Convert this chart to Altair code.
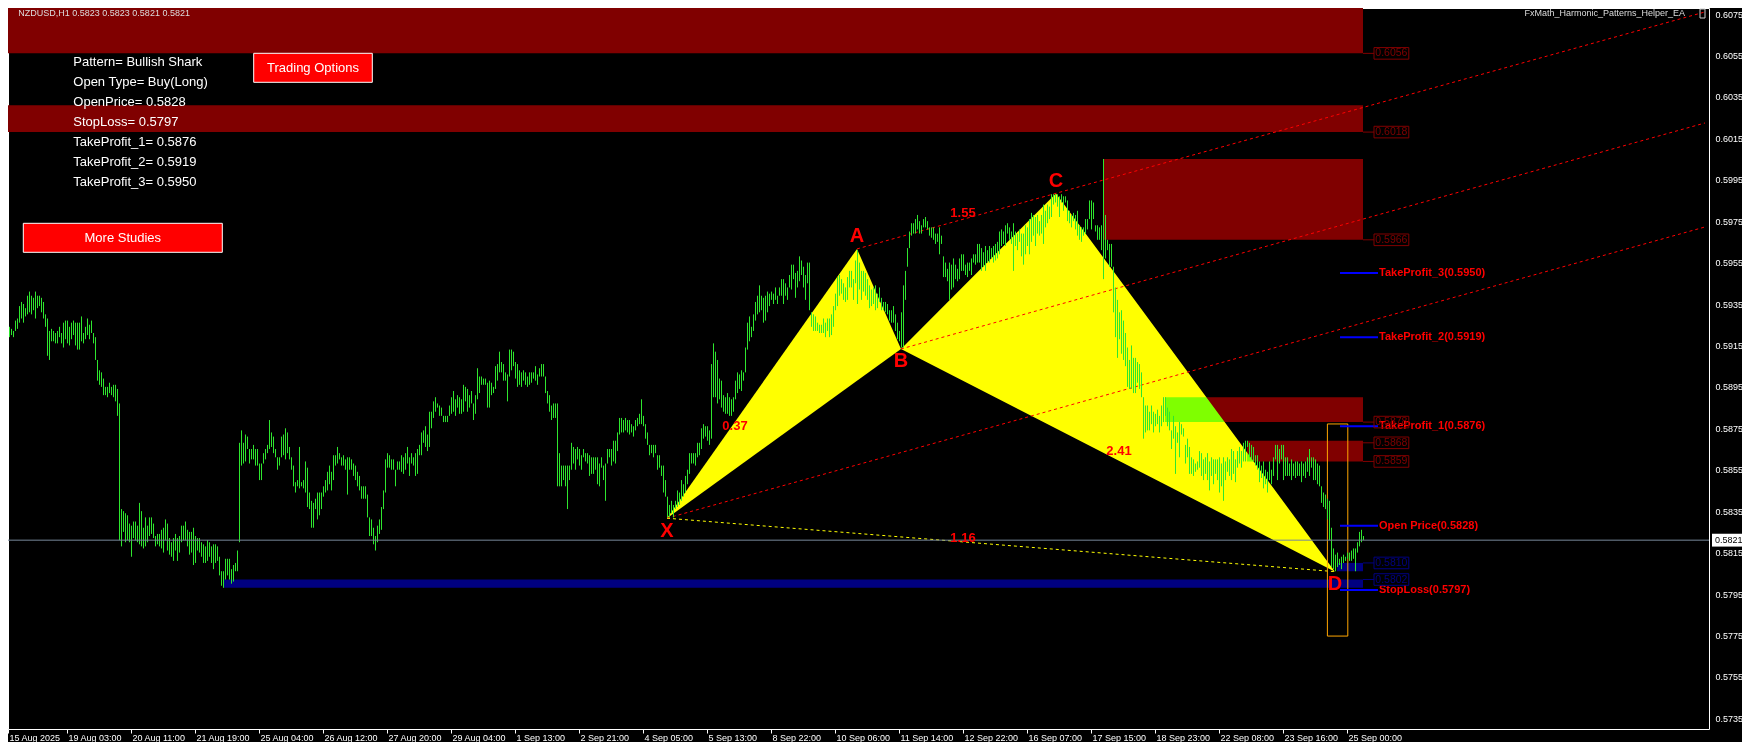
import altair as alt
import pandas as pd

# ---------------- price bars (H1, NZDUSD) ----------------
HIGH = [
0.5935,0.5928,0.5925,0.5924,0.5923,0.5922,0.5927,0.5928,0.5934,0.5936,
0.5935,0.5933,0.5939,0.5941,0.5939,0.5938,0.5941,0.5939,0.5939,0.5938,
0.5936,0.5930,0.5928,0.5922,0.5923,0.5922,0.5921,0.5922,0.5924,0.5921,
0.5926,0.5927,0.5927,0.5924,0.5926,0.5927,0.5926,0.5926,0.5926,0.5929,
0.5921,0.5924,0.5928,0.5925,0.5927,0.5921,0.5919,0.5908,0.5903,0.5902,
0.5899,0.5895,0.5895,0.5897,0.5895,0.5896,0.5896,0.5894,0.5887,0.5836,
0.5835,0.5834,0.5833,0.5829,0.5828,0.5830,0.5830,0.5828,0.5839,0.5835,
0.5827,0.5832,0.5828,0.5832,0.5832,0.5829,0.5823,0.5824,0.5824,0.5826,
0.5827,0.5831,0.5829,0.5822,0.5820,0.5822,0.5824,0.5822,0.5823,0.5828,
0.5828,0.5830,0.5826,0.5825,0.5825,0.5827,0.5823,0.5822,0.5822,0.5820,
0.5819,0.5818,0.5821,0.5820,0.5818,0.5819,0.5819,0.5818,0.5813,0.5806,
0.5806,0.5812,0.5812,0.5812,0.5807,0.5809,0.5810,0.5816,0.5868,0.5874,
0.5868,0.5872,0.5871,0.5865,0.5865,0.5867,0.5865,0.5865,0.5858,0.5858,
0.5863,0.5865,0.5867,0.5879,0.5873,0.5871,0.5865,0.5861,0.5861,0.5871,
0.5872,0.5875,0.5873,0.5866,0.5861,0.5857,0.5849,0.5850,0.5866,0.5849,
0.5850,0.5859,0.5856,0.5844,0.5840,0.5839,0.5841,0.5844,0.5844,0.5844,
0.5847,0.5850,0.5854,0.5857,0.5854,0.5862,0.5862,0.5866,0.5863,0.5861,
0.5862,0.5860,0.5861,0.5861,0.5860,0.5858,0.5857,0.5854,0.5852,0.5847,
0.5847,0.5847,0.5843,0.5832,0.5831,0.5827,0.5823,0.5828,0.5831,0.5837,
0.5845,0.5860,0.5863,0.5862,0.5860,0.5860,0.5855,0.5859,0.5859,0.5862,
0.5861,0.5863,0.5866,0.5861,0.5863,0.5861,0.5863,0.5865,0.5867,0.5873,
0.5874,0.5876,0.5872,0.5883,0.5883,0.5888,0.5890,0.5887,0.5886,0.5885,
0.5881,0.5881,0.5881,0.5886,
0.5890,0.5893,0.5889,0.5891,0.5890,0.5889,0.5896,0.5895,0.5894,0.5891,
0.5893,0.5887,0.5891,0.5904,0.5900,0.5900,0.5899,0.5899,0.5897,0.5898,
0.5897,0.5895,0.5905,0.5906,0.5912,0.5907,0.5906,0.5902,0.5901,0.5913,
0.5913,0.5912,0.5907,0.5906,0.5903,0.5902,0.5903,0.5902,0.5900,0.5902,
0.5902,0.5902,0.5905,0.5901,0.5904,0.5906,0.5906,0.5900,0.5893,0.5891,
0.5886,0.5887,0.5887,0.5887,0.5863,0.5857,0.5857,0.5857,0.5857,0.5857,
0.5868,0.5866,0.5865,0.5866,0.5865,0.5862,0.5865,0.5863,0.5863,0.5862,
0.5861,0.5861,0.5861,0.5861,0.5858,0.5861,0.5857,0.5858,0.5865,0.5865,
0.5865,0.5869,0.5869,0.5873,0.5880,0.5880,0.5879,0.5880,0.5879,0.5879,
0.5877,0.5876,0.5879,0.5880,0.5882,0.5889,0.5881,0.5877,0.5873,0.5867,
0.5867,0.5867,0.5867,0.5862,0.5862,0.5857,0.5857,0.5850,0.5842,0.5838,
0.5840,0.5838,0.5840,0.5845,0.5844,0.5850,0.5848,0.5852,0.5855,0.5863,
0.5863,0.5863,0.5863,0.5868,0.5868,
0.5875,0.5877,0.5876,0.5876,0.5874,0.5906,0.5916,0.5912,0.5908,0.5899,
0.5898,0.5891,0.5890,0.5892,0.5890,0.5889,0.5890,0.5898,0.5902,0.5901,
0.5903,0.5902,0.5914,0.5926,0.5929,0.5924,0.5930,0.5936,0.5939,0.5944,
0.5939,0.5938,0.5939,0.5941,0.5940,0.5941,0.5940,0.5943,0.5939,0.5943,
0.5947,0.5947,0.5945,0.5943,0.5949,0.5954,0.5954,0.5950,0.5951,0.5958,
0.5956,0.5953,0.5949,0.5955,0.5955,0.5931,0.5930,0.5929,0.5926,0.5925,
0.5925,0.5928,0.5926,0.5928,0.5928,0.5930,0.5934,0.5940,0.5948,0.5949,
0.5947,0.5945,0.5943,0.5948,0.5951,0.5951,0.5947,0.5956,0.5961,0.5955,
0.5951,0.5951,0.5950,0.5947,0.5944,0.5942,0.5943,0.5944,0.5940,0.5943,
0.5938,0.5936,0.5936,0.5935,0.5932,0.5932,0.5934,0.5930,0.5926,0.5922,
0.5931,0.5944,0.5951,0.5962,0.5970,0.5974,0.5974,0.5976,0.5978,0.5975,
0.5973,0.5976,0.5977,0.5975,0.5972,0.5972,0.5972,0.5969,0.5969,0.5972,
0.5968,0.5958,0.5955,0.5952,0.5955,0.5954,0.5957,0.5954,0.5952,0.5957,
0.5959,0.5959,0.5954,0.5955,0.5955,0.5957,0.5959,0.5959,0.5964,0.5964,
0.5962,0.5960,0.5963,0.5961,0.5963,0.5962,0.5963,0.5964,0.5965,0.5970,
0.5971,0.5970,0.5973,0.5974,0.5972,0.5970,0.5974,0.5970,0.5969,0.5971,
0.5969,0.5969,0.5973,0.5972,0.5976,0.5979,0.5978,0.5977,0.5978,0.5975,
0.5978,0.5983,0.5980,0.5983,0.5982,
0.5988,0.5988,0.5988,0.5988,0.5987,0.5988,0.5987,0.5987,0.5985,0.5980,
0.5978,0.5979,0.5978,0.5980,0.5973,0.5972,0.5972,0.5976,0.5976,0.5985,
0.5985,0.5984,0.5973,0.5973,0.5972,0.5973,0.6005,0.5978,0.5966,0.5964,
0.5964,0.5953,0.5943,0.5937,0.5931,0.5932,0.5927,0.5921,0.5914,0.5908,
0.5915,0.5909,0.5909,0.5907,0.5906,0.5902,0.5890,0.5886,0.5886,0.5883,
0.5886,0.5883,0.5882,0.5884,0.5881,0.5886,0.5890,0.5890,
0.5885,0.5883,0.5874,0.5881,0.5876,0.5873,0.5878,0.5877,0.5875,0.5867,
0.5870,0.5866,0.5861,0.5860,0.5858,0.5859,0.5864,0.5863,0.5860,0.5861,
0.5863,0.5859,0.5861,0.5860,0.5860,0.5860,0.5861,0.5858,0.5861,0.5859,
0.5861,0.5860,0.5865,0.5864,0.5860,0.5864,0.5866,0.5864,0.5868,0.5869,
0.5869,0.5868,0.5867,0.5866,0.5862,0.5862,0.5859,0.5857,0.5859,0.5855,
0.5854,0.5859,0.5855,0.5861,0.5867,0.5867,0.5865,0.5867,0.5867,0.5861,
0.5861,0.5858,0.5860,0.5858,0.5859,0.5859,0.5858,0.5859,0.5858,0.5859,
0.5861,0.5865,0.5861,0.5861,0.5860,0.5858,0.5857,0.5847,0.5844,0.5843,
0.5841,0.5840,0.5827,0.5817,0.5814,0.5815,0.5812,0.5813,0.5814,0.5813,
0.5815,0.5815,0.5816,0.5817,0.5817,0.5820,0.5825,0.5826,0.5823,
]

LOW = [
0.5926,0.5922,0.5921,0.5919,0.5920,0.5919,0.5922,0.5923,0.5926,0.5928,
0.5926,0.5929,0.5930,0.5931,0.5930,0.5932,0.5928,0.5933,0.5934,0.5931,
0.5928,0.5924,0.5910,0.5908,0.5917,0.5917,0.5916,0.5916,0.5919,0.5916,
0.5914,0.5918,0.5916,0.5915,0.5918,0.5920,0.5915,0.5913,0.5913,0.5917,
0.5916,0.5918,0.5920,0.5918,0.5921,0.5916,0.5908,0.5898,0.5896,0.5895,
0.5891,0.5891,0.5890,0.5892,0.5891,0.5890,0.5888,0.5881,0.5821,0.5818,
0.5825,0.5820,0.5821,0.5820,0.5813,0.5822,0.5821,0.5820,0.5819,0.5818,
0.5817,0.5818,0.5820,0.5823,0.5824,0.5822,0.5818,0.5819,0.5818,0.5817,
0.5815,0.5821,0.5816,0.5814,0.5813,0.5811,0.5816,0.5811,0.5815,0.5820,
0.5821,0.5821,0.5818,0.5814,0.5815,0.5809,0.5810,0.5816,0.5815,0.5813,
0.5810,0.5810,0.5811,0.5813,0.5810,0.5807,0.5810,0.5811,0.5804,0.5799,
0.5798,0.5802,0.5804,0.5802,0.5800,0.5801,0.5806,0.5806,0.5820,0.5857,
0.5858,0.5859,0.5865,0.5858,0.5860,0.5860,0.5857,0.5857,0.5850,0.5850,
0.5858,0.5860,0.5863,0.5865,0.5866,0.5863,0.5861,0.5855,0.5857,0.5861,
0.5862,0.5860,0.5863,0.5860,0.5855,0.5847,0.5844,0.5847,0.5846,0.5847,
0.5846,0.5844,0.5837,0.5836,0.5827,0.5827,0.5836,0.5831,0.5833,0.5836,
0.5842,0.5844,0.5845,0.5848,0.5845,0.5850,0.5857,0.5858,0.5860,0.5857,
0.5857,0.5855,0.5843,0.5855,0.5855,0.5852,0.5850,0.5847,0.5845,0.5841,
0.5841,0.5841,0.5832,0.5823,0.5823,0.5819,0.5816,0.5820,0.5824,0.5826,
0.5836,0.5844,0.5856,0.5856,0.5855,0.5855,0.5847,0.5855,0.5855,0.5854,
0.5853,0.5855,0.5858,0.5852,0.5858,0.5857,0.5852,0.5853,0.5862,0.5862,
0.5868,0.5866,0.5864,0.5866,0.5875,0.5880,0.5883,0.5885,0.5881,0.5881,
0.5878,0.5878,0.5878,0.5881,
0.5882,0.5883,0.5881,0.5885,0.5882,0.5882,0.5883,0.5888,0.5883,0.5885,
0.5887,0.5879,0.5882,0.5889,0.5892,0.5896,0.5896,0.5896,0.5885,0.5885,
0.5891,0.5892,0.5894,0.5898,0.5902,0.5902,0.5898,0.5898,0.5888,0.5900,
0.5903,0.5905,0.5899,0.5895,0.5896,0.5895,0.5898,0.5896,0.5895,0.5896,
0.5897,0.5899,0.5898,0.5896,0.5900,0.5900,0.5900,0.5892,0.5887,0.5883,
0.5879,0.5880,0.5880,0.5847,0.5847,0.5847,0.5850,0.5847,0.5836,0.5850,
0.5855,0.5858,0.5855,0.5860,0.5857,0.5855,0.5861,0.5859,0.5858,0.5852,
0.5853,0.5853,0.5855,0.5848,0.5847,0.5856,0.5850,0.5840,0.5858,0.5861,
0.5857,0.5859,0.5858,0.5864,0.5872,0.5873,0.5873,0.5874,0.5873,0.5872,
0.5873,0.5871,0.5874,0.5876,0.5877,0.5877,0.5876,0.5870,0.5867,0.5862,
0.5863,0.5861,0.5863,0.5855,0.5856,0.5852,0.5844,0.5842,0.5832,0.5832,
0.5834,0.5832,0.5836,0.5837,0.5838,0.5840,0.5842,0.5844,0.5848,0.5853,
0.5858,0.5858,0.5857,0.5861,0.5862,
0.5865,0.5870,0.5871,0.5869,0.5867,0.5870,0.5890,0.5890,0.5887,0.5889,
0.5885,0.5883,0.5882,0.5882,0.5881,0.5881,0.5883,0.5889,0.5892,0.5894,
0.5893,0.5898,0.5902,0.5913,0.5917,0.5919,0.5922,0.5927,0.5930,0.5931,
0.5932,0.5926,0.5927,0.5931,0.5934,0.5937,0.5935,0.5937,0.5935,0.5939,
0.5939,0.5935,0.5939,0.5937,0.5943,0.5942,0.5947,0.5938,0.5943,0.5946,
0.5949,0.5943,0.5937,0.5945,0.5932,0.5924,0.5922,0.5922,0.5922,0.5921,
0.5921,0.5921,0.5919,0.5922,0.5919,0.5920,0.5924,0.5932,0.5934,0.5939,
0.5940,0.5937,0.5936,0.5937,0.5943,0.5943,0.5937,0.5945,0.5935,0.5942,
0.5937,0.5941,0.5939,0.5937,0.5933,0.5934,0.5935,0.5932,0.5933,0.5936,
0.5932,0.5932,0.5931,0.5930,0.5927,0.5926,0.5926,0.5922,0.5918,0.5917,
0.5914,0.5914,0.5937,0.5953,0.5962,0.5968,0.5969,0.5969,0.5971,0.5969,
0.5969,0.5972,0.5972,0.5971,0.5968,0.5967,0.5966,0.5964,0.5965,0.5959,
0.5964,0.5948,0.5948,0.5946,0.5937,0.5942,0.5943,0.5947,0.5946,0.5947,
0.5951,0.5951,0.5949,0.5948,0.5951,0.5949,0.5955,0.5954,0.5955,0.5955,
0.5951,0.5953,0.5951,0.5955,0.5955,0.5957,0.5955,0.5956,0.5957,0.5959,
0.5963,0.5964,0.5963,0.5969,0.5966,0.5964,0.5951,0.5963,0.5961,0.5965,
0.5958,0.5954,0.5959,0.5963,0.5959,0.5965,0.5968,0.5963,0.5969,0.5968,
0.5969,0.5964,0.5972,0.5974,0.5976,
0.5977,0.5983,0.5984,0.5982,0.5977,0.5984,0.5980,0.5984,0.5975,0.5974,
0.5972,0.5975,0.5971,0.5968,0.5966,0.5965,0.5968,0.5969,0.5971,0.5976,
0.5971,0.5976,0.5970,0.5966,0.5966,0.5961,0.5947,0.5957,0.5961,0.5953,
0.5953,0.5931,0.5919,0.5909,0.5918,0.5911,0.5908,0.5905,0.5895,0.5894,
0.5894,0.5892,0.5892,0.5897,0.5894,0.5890,0.5870,0.5873,0.5874,0.5874,
0.5877,0.5873,0.5876,0.5877,0.5873,0.5876,0.5878,0.5881,
0.5876,0.5874,0.5865,0.5870,0.5853,0.5868,0.5861,0.5872,0.5871,0.5858,
0.5861,0.5853,0.5853,0.5852,0.5854,0.5855,0.5856,0.5852,0.5850,0.5853,
0.5850,0.5845,0.5852,0.5848,0.5853,0.5850,0.5844,0.5847,0.5840,0.5850,
0.5854,0.5852,0.5850,0.5853,0.5849,0.5856,0.5858,0.5856,0.5859,0.5859,
0.5866,0.5861,0.5860,0.5859,0.5857,0.5855,0.5849,0.5851,0.5846,0.5848,
0.5844,0.5850,0.5848,0.5852,0.5860,0.5850,0.5858,0.5860,0.5850,0.5852,
0.5852,0.5852,0.5850,0.5852,0.5851,0.5852,0.5852,0.5849,0.5852,0.5851,
0.5854,0.5852,0.5856,0.5850,0.5850,0.5848,0.5847,0.5839,0.5837,0.5836,
0.5831,0.5821,0.5808,0.5807,0.5806,0.5808,0.5809,0.5807,0.5810,0.5811,
0.5812,0.5811,0.5811,0.5812,0.5806,0.5815,0.5818,0.5820,0.5821,
]

TIME_LABELS = ["15 Aug 2025", "19 Aug 03:00", "20 Aug 11:00", "21 Aug 19:00", "25 Aug 04:00",
               "26 Aug 12:00", "27 Aug 20:00", "29 Aug 04:00", "1 Sep 13:00", "2 Sep 21:00",
               "4 Sep 05:00", "5 Sep 13:00", "8 Sep 22:00", "10 Sep 06:00", "11 Sep 14:00",
               "12 Sep 22:00", "16 Sep 07:00", "17 Sep 15:00", "18 Sep 23:00", "22 Sep 08:00",
               "23 Sep 16:00", "25 Sep 00:00"]
BARS_PER_TICK = 32
PRICE_TICKS = [0.5735, 0.5755, 0.5775, 0.5795, 0.5815, 0.5835, 0.5855, 0.5875, 0.5895,
               0.5915, 0.5935, 0.5955, 0.5975, 0.5995, 0.6015, 0.6035, 0.6055, 0.6075]

# harmonic pattern points
PATTERN_NAMES = ["X", "A", "B", "C", "D"]
PATTERN_BARS = [332, 427, 449, 526.5, 666]
PATTERN_PRICES = [0.58316, 0.59616, 0.59133, 0.59884, 0.58058]
PATTERN_SIDE = ["below", "above", "below", "above", "below"]

RATIO_TEXTS = ["0.37", "1.55", "2.41", "1.16"]
RATIO_BARS = [366, 480, 558, 480]
RATIO_PRICES = [0.5876, 0.5979, 0.5864, 0.5822]

# parallel channel lines (start at A, B, X)
CHANNEL_START_BARS = [427, 449, 332]
CHANNEL_START_PRICES = [0.59616, 0.59133, 0.58316]
CHANNEL_END_BAR = 851
CHANNEL_END_PRICES = [0.60760, 0.60224, 0.59722]

# supply / demand zones
ZONE_KINDS = ["supply", "supply", "supply", "supply", "supply", "demand", "demand"]
ZONE_START_BARS = [-4, -4, 550, 581, 622, 110.5, 667]
ZONE_END_BAR = 680
ZONE_LOWS = [0.6056, 0.6018, 0.5966, 0.5878, 0.5859, 0.5798, 0.5806]
ZONE_HIGHS = [0.6100, 0.6031, 0.6005, 0.5890, 0.5869, 0.5802, 0.5810]

ZONE_LABEL_LEVELS = [0.6056, 0.6018, 0.5966, 0.5878, 0.5868, 0.5859, 0.5810, 0.5802]
ZONE_LABEL_KINDS = ["supply"] * 6 + ["demand"] * 2

# trade levels
LEVEL_NAMES = ["TakeProfit_3", "TakeProfit_2", "TakeProfit_1", "Open Price", "StopLoss"]
LEVEL_PRICES = [0.5950, 0.5919, 0.5876, 0.5828, 0.5797]

BOX_BARS = [662.2, 672.4]
BOX_PRICES = [0.57747, 0.58771]

BID = 0.5821
OHLC = [0.5823, 0.5823, 0.5821, 0.5821]

INFO_LINES = ["Pattern= Bullish Shark", "Open Type= Buy(Long)", "OpenPrice= 0.5828",
              "StopLoss= 0.5797", "TakeProfit_1= 0.5876", "TakeProfit_2= 0.5919",
              "TakeProfit_3= 0.5950"]

# ---------------- styling ----------------
FONT = "Liberation Sans"
GREEN = "#2EE62E"
DARKRED = "#800000"
NAVY = "#000080"

XS = alt.Scale(domain=[2.5, 853], nice=False, zero=False)
YS = alt.Scale(domain=[0.572984, 0.60779], nice=False, zero=False)
KIND_SCALE = alt.Scale(domain=["supply", "demand"], range=[DARKRED, NAVY])

n = min(len(HIGH), len(LOW))
bars = pd.DataFrame({"bar": list(range(n)), "high": HIGH[:n], "low": LOW[:n]})

tick_values = [2.5] + list(range(BARS_PER_TICK, BARS_PER_TICK * len(TIME_LABELS), BARS_PER_TICK))
labels_js = "[" + ",".join("'" + t + "'" for t in TIME_LABELS) + "]"
X_AXIS = alt.Axis(orient="bottom", values=tick_values,
                  labelExpr=labels_js + "[round(datum.value / " + str(BARS_PER_TICK) + ")]",
                  labelAlign="left", labelOffset=1, labelPadding=0, tickSize=4, tickColor="white",
                  labelColor="white", labelFont=FONT, labelFontSize=9, domain=False, grid=False,
                  title="", labelOverlap=False, labelFlush=False, labelBound=False)
Y_AXIS = alt.Axis(orient="right", values=PRICE_TICKS, format=".4f", labelColor="white", labelFont=FONT,
                  labelFontSize=9, ticks=False, labelPadding=6, domain=False, grid=False, title="",
                  labelOverlap=False, labelFlush=False, labelBound=False)


def X(field):
    return alt.X(field, type="quantitative", scale=XS, axis=X_AXIS)


def Y(field):
    return alt.Y(field, type="quantitative", scale=YS, axis=Y_AXIS)


# zones
zones = pd.DataFrame({"kind": ZONE_KINDS, "x0": ZONE_START_BARS, "x1": [ZONE_END_BAR] * len(ZONE_KINDS),
                      "lo": ZONE_LOWS, "hi": ZONE_HIGHS})
zone_layer = alt.Chart(zones).mark_rect(clip=True).encode(
    x=X("x0"), x2="x1", y=Y("lo"), y2="hi",
    color=alt.Color("kind:N", scale=KIND_SCALE, legend=None))


# triangles XAB and BCD
def on_edge(p, q, bx):
    return PATTERN_PRICES[p] + (bx - PATTERN_BARS[p]) * (PATTERN_PRICES[q] - PATTERN_PRICES[p]) / (PATTERN_BARS[q] - PATTERN_BARS[p])


tri_rows = []
for name, (p0, p1, p2) in [("XAB", (0, 1, 2)), ("BCD", (2, 3, 4))]:
    tri_rows.append({"tri": name, "bar": PATTERN_BARS[p0], "up": PATTERN_PRICES[p0], "lo": PATTERN_PRICES[p0]})
    tri_rows.append({"tri": name, "bar": PATTERN_BARS[p1], "up": PATTERN_PRICES[p1],
                     "lo": on_edge(p0, p2, PATTERN_BARS[p1])})
    tri_rows.append({"tri": name, "bar": PATTERN_BARS[p2], "up": PATTERN_PRICES[p2], "lo": PATTERN_PRICES[p2]})
tri_layer = alt.Chart(pd.DataFrame(tri_rows)).mark_area(color="#FFFF00", blend="difference", opacity=1).encode(
    x=X("bar"), y=Y("up"), y2="lo", detail="tri:N")

# channel lines
ch_rows = []
for k in range(len(CHANNEL_START_BARS)):
    ch_rows.append({"line": k, "bar": CHANNEL_START_BARS[k], "price": CHANNEL_START_PRICES[k]})
    ch_rows.append({"line": k, "bar": CHANNEL_END_BAR, "price": CHANNEL_END_PRICES[k]})
ch_layer = alt.Chart(pd.DataFrame(ch_rows)).mark_line(color="#FF0000", strokeWidth=1, strokeDash=[3, 3]).encode(
    x=X("bar"), y=Y("price"), detail="line:N")

xd = pd.DataFrame({"bar": [PATTERN_BARS[0], PATTERN_BARS[4]], "price": [PATTERN_PRICES[0], PATTERN_PRICES[4]]})
xd_layer = alt.Chart(xd).mark_line(color="#FFFF00", strokeWidth=1, strokeDash=[3, 3]).encode(
    x=X("bar"), y=Y("price"))

box_layer = alt.Chart(pd.DataFrame({"x0": [BOX_BARS[0]], "x1": [BOX_BARS[1]], "lo": [BOX_PRICES[0]],
                                    "hi": [BOX_PRICES[1]]})).mark_rect(filled=False, color="#FFA500", strokeWidth=1).encode(
    x=X("x0"), x2="x1", y=Y("lo"), y2="hi")

# price bars
bar_layer = alt.Chart(bars).mark_rule(color=GREEN, strokeWidth=1, xOffset=0.5, clip=True).encode(
    x=X("bar"), y=Y("low"), y2="high")

bid_layer = alt.Chart(pd.DataFrame({"p": [BID]})).mark_rule(color="#778899", strokeWidth=1).encode(y=Y("p"))

# trade levels
lv = pd.DataFrame({"price": LEVEL_PRICES,
                   "label": [f"{nm}({pr:.4f})" for nm, pr in zip(LEVEL_NAMES, LEVEL_PRICES)],
                   "x0": [668.5] * len(LEVEL_PRICES), "x1": [687.5] * len(LEVEL_PRICES)})
lv_line = alt.Chart(lv).mark_rule(color="#0000FF", strokeWidth=2).encode(x=X("x0"), x2="x1", y=Y("price"))
lv_text = alt.Chart(lv).mark_text(align="left", baseline="middle", dx=1, color="#FF0000", font=FONT,
                                  fontSize=11, fontWeight="bold").encode(x=X("x1"), y=Y("price"), text="label:N")

# zone labels
zl = pd.DataFrame({"level": ZONE_LABEL_LEVELS, "kind": ZONE_LABEL_KINDS,
                   "txt": [f"{v:.4f}" for v in ZONE_LABEL_LEVELS]})
zl["top"] = zl["level"] + 0.00028
zl["bot"] = zl["level"] - 0.00028
zl["a"] = ZONE_END_BAR
zl["b"] = 685.5
zl["c"] = 702.9
zl["m"] = 694.2
zl_conn = alt.Chart(zl).mark_rule(strokeWidth=1).encode(
    x=X("a"), x2="b", y=Y("level"), color=alt.Color("kind:N", scale=KIND_SCALE, legend=None))
zl_box = alt.Chart(zl).mark_rect(filled=False, strokeWidth=1).encode(
    x=X("b"), x2="c", y=Y("bot"), y2="top", color=alt.Color("kind:N", scale=KIND_SCALE, legend=None))
zl_txt = alt.Chart(zl).mark_text(align="center", baseline="middle", font=FONT, fontSize=10.5).encode(
    x=X("m"), y=Y("level"), text="txt:N", color=alt.Color("kind:N", scale=KIND_SCALE, legend=None))

# pattern letters and ratios
pts = pd.DataFrame({"name": PATTERN_NAMES, "bar": PATTERN_BARS, "price": PATTERN_PRICES, "side": PATTERN_SIDE})
letters_above = alt.Chart(pts).transform_filter("datum.side == 'above'").mark_text(
    color="#FF0000", font=FONT, fontSize=20, fontWeight="bold", baseline="middle", dy=-12.5).encode(
    x=X("bar"), y=Y("price"), text="name:N")
letters_below = alt.Chart(pts).transform_filter("datum.side == 'below'").mark_text(
    color="#FF0000", font=FONT, fontSize=20, fontWeight="bold", baseline="middle", dy=12.5).encode(
    x=X("bar"), y=Y("price"), text="name:N")
ratios = alt.Chart(pd.DataFrame({"t": RATIO_TEXTS, "bar": RATIO_BARS, "price": RATIO_PRICES})).mark_text(
    color="#FF0000", font=FONT, fontSize=13, fontWeight="bold", baseline="middle").encode(
    x=X("bar"), y=Y("price"), text="t:N")

# bid price tag on the axis
bid_tag = alt.Chart(pd.DataFrame({"hi": [BID + 0.00031], "lo": [BID - 0.00031]})).mark_rect(
    color="white").encode(x=alt.value(1704), x2=alt.value(1734), y=Y("hi"), y2="lo")
bid_txt = alt.Chart(pd.DataFrame({"p": [BID], "t": [f"{BID:.4f}"]})).mark_text(
    color="black", font=FONT, fontSize=9, align="left", baseline="middle").encode(
    x=alt.value(1707), y=Y("p"), text="t:N")


def px_text(txt, x, y, **kw):
    return alt.Chart(pd.DataFrame({"t": [txt]})).mark_text(font=FONT, **kw).encode(
        x=alt.value(x), y=alt.value(y), text="t:N")


def px_rect(x0, x1, y0, y1, **kw):
    return alt.Chart(pd.DataFrame({"t": [0]})).mark_rect(**kw).encode(
        x=alt.value(x0), x2=alt.value(x1), y=alt.value(y0), y2=alt.value(y1))


panel = []
for k, line in enumerate(INFO_LINES):
    panel.append(px_text(line, 65.3, 53.5 + 20 * k, fontSize=13, color="white", align="left", baseline="middle"))
panel.append(px_rect(245.7, 364.3, 45.3, 74.3, fill="#FF0000", stroke="white", strokeWidth=1))
panel.append(px_text("Trading Options", 305, 60, fontSize=13, color="white", align="center", baseline="middle"))
panel.append(px_rect(15.3, 214.3, 215.3, 244.3, fill="#FF0000", stroke="white", strokeWidth=1))
panel.append(px_text("More Studies", 114.8, 230, fontSize=13, color="white", align="center", baseline="middle"))
header = "NZDUSD,H1  " + " ".join(f"{v:.4f}" for v in OHLC)
panel.append(px_text(header, 10.3, 4.8, fontSize=9, color="#DDDDDD", align="left", baseline="middle"))
panel.append(px_text("FxMath_Harmonic_Patterns_Helper_EA", 1677, 5, fontSize=9, color="#DDDDDD",
                     align="right", baseline="middle"))
panel.append(px_rect(1692, 1697, 1, 10, filled=False, color="#CCCCCC", strokeWidth=1))

chart = alt.layer(
    zone_layer, tri_layer, ch_layer, xd_layer, box_layer, bar_layer, bid_layer,
    lv_line, lv_text, zl_conn, zl_box, zl_txt, letters_above, letters_below, ratios,
    bid_tag, bid_txt, *panel
).properties(
    width=1701, height=721,
    padding={"left": 0, "top": 0, "right": 33, "bottom": 13},
    autosize=alt.AutoSizeParams(type="none"),
    background="black",
).configure_view(stroke="white", strokeWidth=1)

chart.save("out.html", embed_options={"renderer": "svg", "actions": False})
